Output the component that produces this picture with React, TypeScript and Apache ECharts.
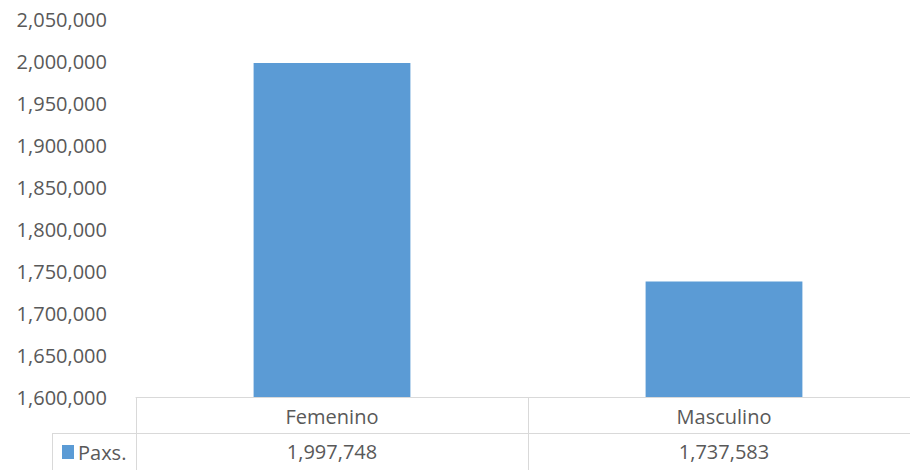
import React, { useEffect, useRef } from "react";
import * as echarts from "echarts";

const categories = ["Femenino", "Masculino"];
const seriesName = "Paxs.";
const values = [1997748, 1737583];
const yMin = 1600000;
const yMax = 2050000;
const yInterval = 50000;

const fmt = (v: number) => v.toLocaleString("en-US");

export default function App() {
  const ref = useRef<HTMLDivElement>(null);
  useEffect(() => {
    document.body.style.margin = "0";
    const chart = echarts.init(ref.current!, null, { renderer: "svg" });
    const font = "'Open Sans', sans-serif";
    const textColor = "#595959";
    const lineColor = "#D9D9D9";
    chart.setOption({
      animation: false,
      backgroundColor: "#ffffff",
      grid: { left: 136, right: 0, top: 19, bottom: 73, containLabel: false },
      xAxis: [
        {
          type: "category",
          data: categories,
          position: "bottom",
          axisLine: { show: true, lineStyle: { color: lineColor, width: 1 } },
          axisTick: { show: true, length: 73, lineStyle: { color: lineColor, width: 1 } },
          axisLabel: { margin: 9, fontSize: 20, color: textColor, fontFamily: font },
          splitLine: { show: false },
        },
        {
          type: "category",
          data: values.map(fmt),
          position: "bottom",
          offset: 36,
          axisLine: { show: false },
          axisTick: { show: false },
          axisLabel: { margin: 8, fontSize: 20, color: textColor, fontFamily: font },
          splitLine: { show: false },
        },
      ],
      yAxis: {
        type: "value",
        min: yMin,
        max: yMax,
        interval: yInterval,
        axisLine: { show: false },
        axisTick: { show: false },
        splitLine: { show: false },
        axisLabel: {
          margin: 29,
          fontSize: 20,
          color: textColor,
          fontFamily: font,
          formatter: (v: number) => fmt(v),
        },
      },
      series: [
        {
          name: seriesName,
          type: "bar",
          data: values,
          barWidth: "40%",
          itemStyle: { color: "#5B9BD5" },
        },
      ],
      graphic: [
        { type: "line", shape: { x1: 52, y1: 433.5, x2: 920, y2: 433.5 }, style: { stroke: lineColor, lineWidth: 1 } },
        { type: "line", shape: { x1: 52.5, y1: 433, x2: 52.5, y2: 470 }, style: { stroke: lineColor, lineWidth: 1 } },
        { type: "rect", shape: { x: 62, y: 445, width: 12, height: 14 }, style: { fill: "#5B9BD5" } },
        {
          type: "text",
          x: 78,
          y: 452,
          style: { text: seriesName, fontSize: 20, fill: textColor, fontFamily: font, verticalAlign: "middle" },
        },
      ],
    });
    return () => chart.dispose();
  }, []);
  return (
    <div style={{ width: 910, height: 470, overflow: "hidden", position: "relative" }}>
      <div ref={ref} style={{ width: 920, height: 470 }} />
    </div>
  );
}
